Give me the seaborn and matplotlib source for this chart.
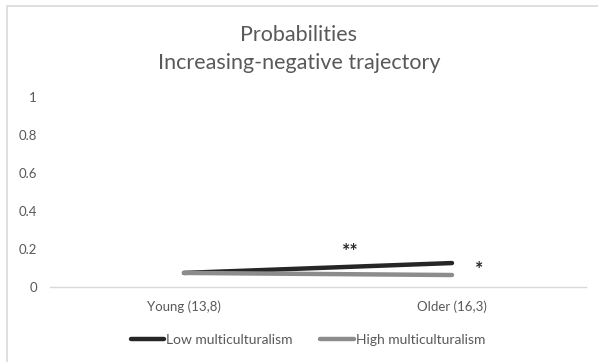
import matplotlib
matplotlib.use("Agg")
import matplotlib.pyplot as plt
from matplotlib.patches import Rectangle
from matplotlib.lines import Line2D
import seaborn as sns
import pandas as pd

categories = ["Young (13,8)", "Older (16,3)"]
low_multi = [0.074, 0.126]
high_multi = [0.074, 0.063]
series_names = ["Low multiculturalism", "High multiculturalism"]
y_ticks = [0, 0.2, 0.4, 0.6, 0.8, 1]
y_tick_labels = ["0", "0.2", "0.4", "0.6", "0.8", "1"]

sns.set_style("white")
plt.rcParams['font.family'] = ['Lato', 'DejaVu Sans']

low_col = "#262626"
high_col = "#8c8c8c"
text_col = "#595959"

df = pd.DataFrame({
    "x": list(range(len(categories))) * 2,
    "value": low_multi + high_multi,
    "series": [series_names[0]] * len(categories) + [series_names[1]] * len(categories),
})

fig = plt.figure(figsize=(5.98, 3.62), dpi=100)
ax = fig.add_axes([0.0836, 0.2072, 0.8963, 0.5249])

sns.lineplot(data=df, x="x", y="value", hue="series",
             palette={series_names[0]: low_col, series_names[1]: high_col},
             linewidth=3.2, ax=ax, legend=False, solid_capstyle="round")

ax.set_xlim(-0.5, 1.5)
ax.set_ylim(0, 1)
ax.set_yticks(y_ticks)
ax.set_yticklabels(y_tick_labels, color=text_col, fontsize=9.5)
ax.set_xticks(range(len(categories)))
ax.set_xticklabels(categories, color=text_col, fontsize=9.5)
ax.tick_params(axis="both", length=0)
ax.tick_params(axis="x", pad=9.5)
ax.tick_params(axis="y", pad=9.5)
for s in ["top", "right", "left"]:
    ax.spines[s].set_visible(False)
ax.spines["bottom"].set_color("#d9d9d9")
ax.spines["bottom"].set_linewidth(1)
ax.set_xlabel("")
ax.set_ylabel("")

ax.text(0.62, 0.185, "**", fontsize=14, fontweight="bold", color=low_col, ha="center", va="center")
ax.text(1.10, 0.09, "*", fontsize=14, fontweight="bold", color=low_col, ha="center", va="center")

fig.text(0.5, 0.903, "Probabilities", ha="center", va="center", fontsize=15.5, color=text_col)
fig.text(0.5, 0.826, "Increasing-negative trajectory", ha="center", va="center", fontsize=15.5, color=text_col)

handles = [Line2D([0], [0], color=low_col, lw=3.2, solid_capstyle="round"),
           Line2D([0], [0], color=high_col, lw=3.2, solid_capstyle="round")]
fig.legend(handles, series_names, loc="center", bbox_to_anchor=(0.515, 0.061), ncol=2,
           frameon=False, fontsize=10, handlelength=2.4, handletextpad=0.15,
           columnspacing=2.0, labelcolor=text_col, borderpad=0)

fig.patches.append(Rectangle((7 / 598, -0.05), 1.0, 1.05 - 6 / 362, transform=fig.transFigure,
                             fill=False, edgecolor="#d9d9d9", linewidth=1.2))

fig.savefig("out.png", dpi=100)
